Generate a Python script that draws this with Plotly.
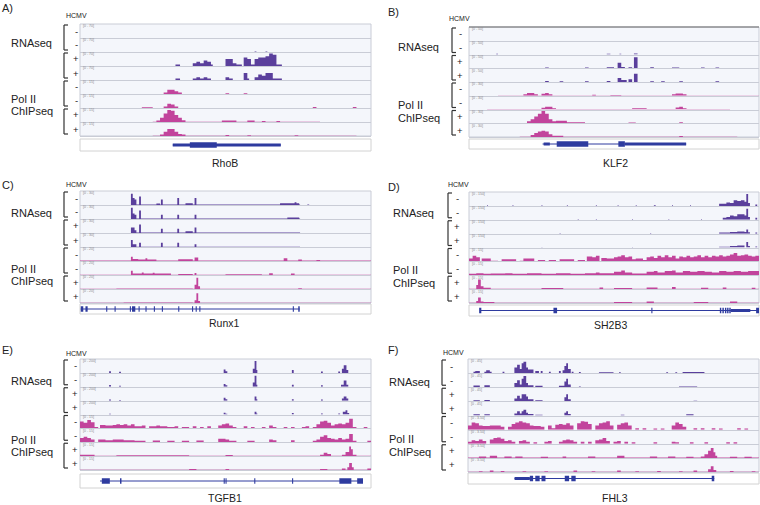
import plotly.graph_objects as go

# ---------------- DATA ----------------
# Each track: list of runs (start, end, height) on a 0-80 genomic-bin axis, height 0-9.
# Later runs overwrite earlier ones.
SIGNS = ['-', '-', '+', '+', '-', '-', '+', '+']

# Panel A: RhoB
A_rna = [
    [],
    [(48, 48.5, 0.4), (51, 51.5, 0.4)],
    [(26.3, 27.5, 1), (31, 32, 2), (32, 33, 3), (33, 34, 2), (34, 35, 4), (35, 36, 3), (36, 36.5, 1),
     (40, 41, 5), (41, 42, 5), (42, 43, 2), (43, 44.5, 1), (45, 46, 6), (46, 47, 5), (47, 48, 1),
     (48, 49, 5), (49, 50, 6), (50, 51, 6), (51, 52, 7), (52, 53, 9), (53, 54, 8), (54, 55.5, 1)],
    [(26.3, 27.5, 1), (31, 32, 1), (32, 33, 2), (33, 34, 1), (34, 35, 2), (35, 36, 1), (40, 41, 2),
     (41, 42, 1), (45, 46, 5), (46, 46.5, 1), (48, 49, 2), (49, 50, 4), (50, 51, 3), (51, 52, 5),
     (52, 53, 5), (53, 55.5, 1)],
]
A_chip = [
    [(23, 24, 1), (24, 25, 3), (25, 26, 3), (26, 27, 2), (27, 28, 1), (40, 41, 0.5), (45, 46, 0.5)],
    [(17, 20, 0.5), (23, 24, 1), (24, 25, 3), (25, 26, 2.5), (26, 27, 1), (64, 65, 0.7), (75, 76, 0.7)],
    [(20, 66, 0.25), (39, 43, 1), (46, 48, 1), (50, 51, 0.7), (54, 55, 0.7), (21, 22, 1), (22, 23, 3),
     (23, 24, 6), (24, 25, 8.5), (25, 26, 8), (26, 27, 5), (27, 28, 3), (28, 29, 1.2)],
    [(20, 76, 0.2), (40, 41, 0.7), (46, 47, 0.6), (59, 60, 0.5), (22, 23, 1), (23, 24, 3), (24, 25, 5),
     (25, 26, 5), (26, 27, 3), (27, 28, 1.5), (28, 29, 1)],
]
A_gene_line = (25.5, 55.2)
A_utr = [(25.5, 55.2)]
A_cds = [(30.2, 37.6)]

# Panel B: KLF2
B_rna = [
    [],
    [(7.5, 8, 0.6), (38, 39, 0.6), (41.5, 42, 0.6), (45.5, 46.5, 0.8)],
    [(21, 22, 0.6), (32, 33, 0.5), (38, 40, 0.7), (41, 42, 4), (42, 43, 1), (44, 45, 0.8), (45.5, 46.5, 8),
     (50, 51, 0.7), (56, 58, 0.5), (64, 65, 0.5), (68, 69, 0.5)],
    [(21, 22, 0.7), (25, 26, 0.5), (32, 33, 0.5), (38, 39, 0.7), (41, 42, 3), (42, 43.5, 1.5), (44, 45, 2),
     (45.5, 46.5, 6), (50, 51, 0.6), (53, 54, 0.5), (58, 59, 0.5), (68, 69, 0.5)],
]
B_chip = [
    [(8, 80, 0.2), (15, 16, 1), (16, 18, 2), (18, 19, 1), (20, 21, 1.5), (21, 22, 2), (22, 23, 1),
     (34, 35, 0.8), (39, 42, 0.6), (56, 57, 1), (57, 59, 1.7), (59, 60, 1)],
    [(5, 72, 0.4), (20, 21, 1.2), (21, 23, 2), (23, 24, 1), (45, 49, 1), (57, 58, 1.5), (58, 59, 2), (59, 60, 1)],
    [(14, 70, 0.25), (16, 17, 1.5), (17, 18, 3), (18, 19, 5), (19, 20, 7), (20, 21, 9), (21, 22, 7),
     (22, 23, 3), (23, 24, 1.5), (24, 27, 1.8), (27, 32, 0.8), (44, 46, 0.6), (58, 59, 0.8)],
    [(14, 74, 0.2), (17, 18, 1.5), (18, 19, 3), (19, 20, 4), (20, 21, 4.5), (21, 22, 4), (22, 23, 2),
     (23, 26, 1), (58, 59, 0.8)],
]
B_gene_line = (20.3, 59.9)
B_utr = [(20.6, 22.3), (43, 59.9)]
B_cds = [(24.2, 32.9), (41.2, 43)]

# Panel C: Runx1
C_rna = [
    [(14.5, 60.5, 0.3), (14, 14.5, 8), (14.5, 15, 5), (15, 15.5, 4), (16.2, 16.7, 6), (21, 22, 1),
     (22.2, 22.7, 4), (26.7, 27.2, 5), (29, 31, 1.3), (31.5, 32, 5), (55, 60.3, 1.2), (59, 59.5, 2),
     (62.5, 63, 0.4)],
    [(14.5, 60.5, 0.3), (14, 14.5, 8), (14.5, 15, 4), (15, 15.5, 3), (16.2, 16.7, 6), (22.2, 22.7, 3),
     (26.7, 27.2, 3), (31.5, 32, 3), (57, 60.3, 1)],
    [(14.5, 60.5, 0.3), (14, 14.5, 4), (14.5, 15, 4), (15, 15.5, 2), (16.2, 16.7, 6), (22.2, 22.7, 3),
     (26.7, 27.2, 3), (29, 31, 1.2), (31.5, 32, 4)],
    [(14.5, 60.5, 0.25), (14, 14.5, 5), (14.5, 15, 2), (15, 15.5, 2), (16.2, 16.7, 3), (22.2, 22.7, 3),
     (26.7, 27.2, 3), (31.5, 32, 2)],
]
C_chip = [
    [(0, 80, 0.3), (14, 14.5, 3), (14.5, 16, 1.5), (16, 21, 1), (18, 18.5, 2), (27, 31, 1.2),
     (31.5, 32.5, 2.5), (56, 57, 2), (60, 61, 1), (65, 66, 0.8)],
    [(0, 80, 0.25), (14, 14.5, 3), (14.5, 25, 1), (17, 17.5, 1.8), (20, 20.5, 1.6), (27, 31, 0.8),
     (31.5, 32, 1.5), (40, 50, 0.6), (52, 53, 1.2), (58, 59, 1)],
    [(0, 80, 0.2), (10, 31, 0.35), (31.5, 32, 3), (32, 32.5, 8), (32.5, 33, 2), (60, 61, 0.6)],
    [(0, 80, 0.2), (12, 31, 0.3), (31.5, 32, 2), (32, 32.5, 7), (32.5, 33, 1.5)],
]
C_gene_line = (0.2, 60.4)
C_utr = []
C_cds = [(0.2, 0.9), (1.5, 2.1), (7.2, 7.5), (9.5, 9.8), (13.7, 14.0), (14.3, 15.2), (16.1, 16.4),
         (18.0, 18.3), (20.3, 20.6), (22.5, 22.8), (27.0, 27.3), (30.8, 31.1), (31.8, 32.1),
         (32.8, 33.1), (58.5, 58.8), (60.0, 60.4)]

# Panel D: SH2B3
D_rna = [
    [(5, 5.3, 0.5), (12, 12.3, 0.5), (20, 20.3, 0.5), (27, 27.3, 0.5), (35, 35.3, 0.5), (41, 41.3, 0.5),
     (46, 46.3, 0.5), (51, 51.5, 0.5), (56, 56.3, 0.5), (61, 61.3, 0.5), (69, 71, 1.5), (71, 72, 2.5),
     (72, 73, 2), (73, 74, 4), (74, 75, 3.5), (75, 76, 4), (76, 76.5, 3), (76.5, 77, 8.5), (77, 77.5, 2),
     (79, 79.5, 1)],
    [(30, 30.3, 0.5), (35, 35.3, 0.5), (45, 45.3, 0.5), (55, 55.3, 0.5), (64, 64.3, 0.5), (70, 71, 1.5),
     (71, 72, 2), (72, 73, 3), (73, 74, 2.5), (74, 76, 4), (76, 76.5, 3), (76.5, 77, 8), (77, 77.5, 2),
     (79, 79.5, 1.5)],
    [(25, 25.3, 0.4), (50, 50.3, 0.4), (69, 72, 0.8), (72, 74, 1.2), (74, 76, 1.5), (76, 76.5, 1.2),
     (76.5, 77, 3), (77, 77.5, 1), (79, 79.5, 0.8)],
    [(20, 20.3, 0.4), (45, 45.3, 0.4), (69, 72, 0.6), (72, 74, 1), (74, 76, 1.5), (76.5, 77, 4),
     (77, 77.5, 1), (79, 79.5, 0.7)],
]
D_chip = [
    [(0, 1, 2), (1, 2, 4), (2, 3, 3), (3.5, 6, 2), (6, 8, 0.5), (9, 13, 1.5), (14, 15, 0.5), (15, 18, 2),
     (19, 21, 1), (22, 24, 1), (25, 29, 1.5), (30, 32, 1), (32.5, 34, 3.5), (34, 35, 3), (35, 36, 4),
     (36.5, 38, 2.5), (38, 40, 2), (40, 41, 3), (41, 42, 3.5), (42, 43, 4.5), (43, 44, 3), (44, 45, 3.5),
     (45, 46, 1.5), (46, 48, 2), (48, 49, 1), (49, 50, 3), (50, 51, 3.5), (51, 52, 2.5), (52, 53, 4),
     (53, 54, 3), (54, 55, 4.5), (55, 56, 3), (56, 57, 4), (57, 58, 2), (58, 59, 3.5), (59, 60, 3),
     (60, 61, 4), (61, 62, 3), (62, 63, 3.5), (63, 64, 4.5), (64, 65, 3), (65, 66, 4), (66, 67, 3),
     (67, 68, 4), (68, 69, 3.5), (69, 70, 4.5), (70, 71, 3.5), (71, 72, 4), (72, 73, 5), (73, 74, 6),
     (74, 75, 4), (75, 76, 4.5), (76, 77, 5), (77, 78, 4), (78, 79, 3.5), (79, 80, 4)],
    [(0, 2, 1), (2, 4, 1.5), (4, 6, 1), (6, 10, 1.2), (10, 12, 1.5), (12, 16, 1), (16, 20, 1.5), (20, 24, 1),
     (24, 28, 1.5), (28, 32, 1), (32, 35, 1.5), (35, 36, 2), (36, 40, 1.5), (40, 42, 2.5), (42, 43, 3.5),
     (43, 45, 2), (45, 49, 1.2), (49, 51, 2.5), (51, 52, 3), (52, 54, 2), (54, 56, 3), (56, 57, 3.5),
     (57, 59, 2), (59, 61, 3), (61, 63, 2.5), (63, 65, 3), (65, 67, 2.5), (67, 69, 2), (69, 71, 3),
     (71, 73, 2.5), (73, 75, 3), (75, 77, 2.5), (77, 80, 3)],
    [(0, 80, 0.3), (2, 2.5, 3), (2.5, 3.3, 7), (3.3, 4, 2), (4, 6, 1), (20, 26, 0.8), (36, 37, 1.2),
     (40, 45, 0.8), (49, 52, 1.2), (56, 57, 1.5), (64, 66, 1), (70, 71, 1.2), (78, 79, 1)],
    [(0, 80, 0.25), (2, 2.5, 1.5), (2.5, 3.3, 4), (3.3, 4, 1), (4, 7, 0.8), (40, 45, 0.7), (49, 51, 1),
     (62, 66, 0.8), (72, 74, 1)],
]
D_gene_line = (3.0, 80.0)
D_utr = [(72.2, 77.6)]
D_cds = [(2.8, 3.4), (23.3, 24.3), (50.3, 50.6), (69.2, 69.6), (69.9, 70.3), (70.6, 71.0), (71.2, 71.6),
         (71.8, 72.2), (79.2, 80.0)]

# Panel E: TGFB1
E_rna = [
    [(8, 8.5, 1.2), (10.8, 11.3, 0.8), (39.5, 40, 2.5), (40, 40.6, 1.2), (47.6, 48, 3), (48, 48.4, 8.5),
     (48.4, 48.8, 2), (58.2, 58.7, 2), (66.2, 66.7, 1), (71, 71.4, 1), (72, 72.5, 3), (72.5, 73.2, 5.5),
     (73.2, 73.7, 2)],
    [(8, 8.5, 1.2), (10.8, 11.3, 0.8), (39.5, 40, 2), (40, 40.6, 1), (47.6, 48, 3), (48, 48.4, 8),
     (48.4, 48.8, 1.5), (58.2, 58.7, 1.5), (66.2, 66.7, 1), (71.8, 72.4, 1.5), (72.4, 73.2, 4.5),
     (73.2, 73.7, 1.5)],
    [(8, 8.5, 0.8), (10.8, 11.3, 0.5), (39.5, 40.1, 2), (40.1, 40.6, 1), (48, 48.4, 3), (48.4, 48.8, 1),
     (58.2, 58.7, 1), (66.2, 66.7, 0.8), (72, 72.5, 1.5), (72.5, 73.2, 3), (73.2, 73.7, 1.5)],
    [(8, 8.5, 0.6), (39.5, 40.1, 1.2), (40.1, 40.6, 0.6), (48, 48.4, 2), (48.4, 48.8, 0.8), (58.2, 58.7, 1),
     (66.2, 66.7, 0.8), (71, 71.5, 0.8), (72.3, 73, 2), (73, 73.5, 3), (73.5, 74, 1)],
]
E_chip = [
    [(0, 80, 0.25), (0, 1, 5), (1, 2, 4), (2, 3, 6), (3, 4, 4.5), (4, 5, 1), (5.5, 7, 2.5), (7, 9, 2),
     (9, 10, 2.5), (10, 11, 3), (11, 12, 2.5), (12, 13, 3), (13, 14, 2), (14, 15, 3), (15, 17, 1.5),
     (17, 18, 2), (19, 21, 1.5), (21, 22, 2), (22, 24, 1.5), (24, 26, 1), (26, 27, 1.5), (28, 30, 1),
     (31, 32, 1.5), (33, 34, 1), (35, 36, 1.5), (38, 39, 2), (39, 40, 3), (40, 41, 3.5), (41, 42, 2),
     (42, 43, 1), (45, 46, 1.5), (47, 48, 1), (50, 51, 1), (52, 53, 2), (53, 54, 1), (56, 57, 1),
     (58, 59, 1), (61, 62, 1), (62, 63, 1.5), (64, 65, 1), (65, 66, 3), (66, 67, 5), (67, 68, 5.5),
     (68, 69, 4), (69, 70, 2), (70, 71, 3), (71, 72, 3.5), (72, 73, 3), (73, 74, 4), (74, 75, 7),
     (75, 76, 1), (78, 79, 1)],
    [(0, 80, 0.25), (0, 1, 3), (1, 2, 4), (2, 3, 3), (3, 4, 2), (5, 7, 2), (7, 9, 1.5), (9, 12, 2),
     (12, 15, 1.5), (15, 18, 1), (20, 22, 1.2), (24, 26, 1), (28, 30, 1), (32, 34, 1.2), (38, 40, 2.5),
     (40, 41, 2), (41, 43, 1), (46, 48, 1), (52, 53, 2), (53, 54, 1.5), (58, 59, 1.5), (64, 65, 1),
     (65, 66, 2), (66, 67, 4), (67, 68, 5), (68, 69, 3), (69, 70, 2.5), (70, 71, 2), (71, 72, 3),
     (72, 73, 2), (73, 74, 2.5), (74, 75, 6), (75, 76, 1), (79, 80, 1)],
    [(0, 80, 0.3), (0, 4, 1), (10, 30, 0.6), (40, 42, 0.8), (66, 67, 1), (67, 68, 2.5), (68, 69, 1.5),
     (72, 73, 1), (73, 74, 3), (74, 74.5, 7), (74.5, 75, 5), (75, 76, 1)],
    [(0, 80, 0.25), (30, 32, 0.8), (40, 41, 0.7), (66, 68, 0.8), (72, 73, 1), (73.5, 74, 2), (74, 74.7, 5),
     (74.7, 75.2, 2), (79, 80, 1)],
]
E_gene_line = (5.5, 77.8)
E_utr = []
E_cds = [(6.0, 8.2), (11.0, 11.4), (39.5, 39.8), (40.0, 40.3), (47.9, 48.2), (58.3, 58.6),
         (71.3, 74.6), (76.2, 77.8)]

# Panel F: FHL3
F_rna = [
    [(1.4, 2, 1), (2, 3.2, 1.5), (4.5, 5, 1), (5, 6, 2), (6, 6.5, 1), (9.4, 9.9, 1), (12.8, 13.4, 4),
     (13.4, 14.2, 6), (14.2, 14.7, 3), (14.7, 15.3, 7), (15.3, 16, 8), (16, 16.5, 4), (16.5, 17.9, 2.5),
     (18.5, 19.5, 1.5), (20, 20.6, 1.5), (22.3, 22.8, 1), (25, 25.5, 1.5), (26, 26.6, 2), (26.6, 27.1, 5),
     (27.1, 27.6, 7), (27.6, 28.2, 3), (28.4, 29, 1), (30.5, 31, 0.8), (36, 40, 0.6), (41.5, 42, 0.6),
     (54.4, 55, 0.6), (57, 57.5, 0.6), (59, 65, 0.8)],
    [(1.4, 3.2, 1.2), (4.5, 6, 1.5), (12.8, 13.4, 3), (13.4, 14.2, 5), (14.2, 14.7, 2), (14.7, 15.3, 6),
     (15.3, 16, 8), (16, 16.5, 3), (16.5, 17.9, 1.5), (18.5, 20.6, 1), (25, 26.5, 1), (26.6, 27.1, 4),
     (27.1, 27.6, 6), (27.6, 28.2, 2), (30.5, 31, 0.6), (58, 63, 0.6)],
    [(1.4, 3.2, 0.8), (4.5, 6, 1), (12.8, 13.4, 2), (13.4, 14.2, 4), (14.2, 14.7, 2), (14.7, 15.3, 5),
     (15.3, 16, 5), (16, 16.5, 3.5), (16.5, 17.9, 1.5), (18.5, 20.6, 0.8), (26.6, 27.1, 3), (27.1, 27.6, 5),
     (27.6, 28.2, 1.5), (62, 63, 0.5)],
    [(1.4, 3.2, 0.8), (4.5, 6, 0.8), (12.8, 13.4, 1.5), (13.4, 14.2, 3), (14.2, 14.7, 1.5), (14.7, 15.3, 3),
     (15.3, 16, 4), (16, 16.5, 2), (16.5, 17.9, 1), (18.5, 20.6, 0.6), (26.6, 27.1, 2), (27.1, 27.6, 3),
     (27.6, 28.2, 1), (42, 43, 0.5), (60, 62, 0.8)],
]
F_chip = [
    [(0, 1, 3), (1, 2, 5), (2, 3, 4.5), (3, 4, 3), (4, 6, 2.5), (6, 9, 3), (9, 10, 2), (11, 12, 2),
     (12, 13, 4), (13, 14, 5), (14, 15, 6), (15, 16, 5), (16, 17, 4.5), (17, 18, 3), (18, 20, 2.5),
     (20, 21, 2), (22, 23, 3), (23, 24, 1), (24, 25, 3.5), (25, 26, 4), (26, 27, 3.5), (27, 28, 4.5),
     (28, 29, 3), (30, 31, 4.5), (31, 32, 6), (32, 33, 5.5), (33, 34, 4), (35, 36, 3), (36, 37, 4.5),
     (37, 38, 5), (38, 39, 6), (39, 40, 3), (41, 42, 3.5), (42, 43, 4.5), (43, 44, 5), (44, 45, 3),
     (46, 47, 1), (48, 49, 1), (51, 52, 0.8), (53, 54, 0.8), (56, 57, 3), (57, 58, 5), (58, 59, 4),
     (59, 60, 2), (62, 63, 1), (64, 65, 1), (67, 68, 1), (69, 70, 0.8), (74, 75, 1), (76, 77, 0.8)],
    [(0, 1, 1.5), (1, 2, 2.5), (2, 3, 2), (3, 4, 3), (4, 5, 2), (6, 7, 3), (7, 8, 4), (8, 9, 4.5),
     (9, 10, 3.5), (10, 11, 2), (11, 12, 2.5), (12, 13, 1.5), (14, 15, 2), (15, 16, 2.5), (16, 17, 1.5),
     (18, 19, 1), (21, 22, 1.5), (22, 23, 2), (25, 26, 1.5), (26, 27, 2.5), (27, 28, 3), (28, 29, 2.5),
     (29, 30, 1.5), (31, 32, 1.5), (33, 34, 1.5), (35, 36, 2.5), (36, 37, 3), (37, 38, 4), (38, 39, 2),
     (40, 41, 1.5), (41, 42, 2), (43, 44, 1.5), (45, 46, 1), (51, 52, 1), (56, 57, 1.5), (57, 58, 1),
     (61, 62, 1), (65, 66, 1), (71, 72, 1), (73, 74, 1)],
    [(0, 80, 0.3), (3, 5, 1), (6, 8, 1.5), (10, 12, 1), (13, 15, 1), (20, 22, 0.8), (26, 27, 1),
     (33, 35, 1), (41, 43, 1.5), (50, 52, 1), (55, 57, 1), (60, 62, 0.8), (64, 65, 1), (65, 66, 2.5),
     (66, 66.7, 5), (66.7, 67.4, 7), (67.4, 68, 4), (68, 68.5, 1.5), (72, 74, 0.8), (76, 78, 0.8)],
    [(0, 80, 0.25), (3, 4, 0.6), (6, 7, 1), (9, 10, 0.8), (15, 16, 0.6), (21, 22, 0.6), (29, 30, 1),
     (34, 35, 0.6), (41, 42, 1), (46, 47, 0.6), (52, 53, 0.7), (58, 59, 0.6), (62, 63, 1), (66, 66.8, 2),
     (66.8, 67.5, 4), (67.5, 68.2, 1.5), (72, 73, 0.7), (78, 79, 0.6)],
]
F_gene_line = (12.8, 67.7)
F_utr = [(12.8, 17.0)]
F_cds = [(17.0, 17.9), (18.5, 19.7), (20.2, 21.3), (26.6, 27.8), (28.4, 29.6), (67.0, 67.7)]

GENES = ['RhoB', 'KLF2', 'Runx1', 'SH2B3', 'TGFB1', 'FHL3']
LETTERS = ['A)', 'B)', 'C)', 'D)', 'E)', 'F)']
RNA_SCALES = ['[0 - 70]', '[0 - 50]', '[0 - 30]', '[0 - 150]', '[0 - 200]', '[0 - 45]']
CHIP_SCALES = ['[0 - 15]', '[0 - 30]', '[0 - 20]', '[0 - 15]', '[0 - 15]', '[0 - 3.50]']

# ---------------- LAYOUT / STYLE ----------------
W, H = 760, 505
RNA_COL = '#5a3f9c'
CHIP_COL = '#c2449c'
GENE_COL = '#2e3b9f'
FONT = 'Liberation Sans, Arial, sans-serif'
NB = 320
STEP = 80 / NB


def fx(x):
    return x / W


def fy(y):
    return 1 - y / H


def raster(runs):
    v = [0.0] * NB
    for a, b, h in runs:
        for i in range(NB):
            c = (i + 0.5) * STEP
            if a <= c < b:
                v[i] = h
    return v


geom = [
    dict(tx0=80, tx1=371, ty0=24, ty1=136, gy0=139, gy1=151, let=(1, 8), hc=(76, 15), lx=10,
         ry=43, py1=99, py2=111, bx=64, sx=76, gn=(225, 163), gnb=False, topline=False),
    dict(tx0=469, tx1=759, ty0=27, ty1=137, gy0=139, gy1=149, let=(387, 12), hc=(459, 18), lx=397,
         ry=47, py1=105, py2=118, bx=452, sx=460, gn=(615, 163), gnb=False, topline=True),
    dict(tx0=80, tx1=371, ty0=191, ty1=303, gy0=304, gy1=314, let=(1, 185), hc=(76, 184), lx=10,
         ry=213, py1=269, py2=281, bx=64, sx=76, gn=(225, 323), gnb=False, topline=False),
    dict(tx0=469, tx1=759, ty0=192, ty1=303, gy0=305, gy1=316, let=(387, 187), hc=(458, 184), lx=392,
         ry=213, py1=270, py2=283, bx=448, sx=457, gn=(610, 325), gnb=False, topline=False),
    dict(tx0=80, tx1=371, ty0=359, ty1=470, gy0=474, gy1=488, let=(1, 350), hc=(76, 353), lx=10,
         ry=381, py1=440, py2=452, bx=64, sx=75, gn=(225, 505), gnb=True, topline=False),
    dict(tx0=468, tx1=759, ty0=359, ty1=472, gy0=473, gy1=484, let=(387, 350), hc=(453, 352), lx=388,
         ry=382, py1=439, py2=452, bx=442, sx=452, gn=(615, 505), gnb=True, topline=False),
]

data_rna = [A_rna, B_rna, C_rna, D_rna, E_rna, F_rna]
data_chip = [A_chip, B_chip, C_chip, D_chip, E_chip, F_chip]
gene_lines = [A_gene_line, B_gene_line, C_gene_line, D_gene_line, E_gene_line, F_gene_line]
gene_utr = [A_utr, B_utr, C_utr, D_utr, E_utr, F_utr]
gene_cds = [A_cds, B_cds, C_cds, D_cds, E_cds, F_cds]

fig = go.Figure()
layout = {}
shapes = []
annotations = []
ax = 0
xs = [i * STEP for i in range(NB + 1)]


def txt(x, y, s, size, color='#222', xanchor='left', yanchor='middle'):
    annotations.append(dict(x=fx(x), y=fy(y), xref='paper', yref='paper', text=s, showarrow=False,
                            xanchor=xanchor, yanchor=yanchor, borderpad=0,
                            font=dict(family=FONT, size=size, color=color)))


def line(x0, y0, x1, y1, color='#333', width=1.2):
    shapes.append(dict(type='line', xref='paper', yref='paper', x0=fx(x0), y0=fy(y0), x1=fx(x1), y1=fy(y1),
                       line=dict(color=color, width=width)))


for p, g in enumerate(geom):
    tracks = data_rna[p] + data_chip[p]
    th = (g['ty1'] - g['ty0']) / 8
    # track area background
    shapes.append(dict(type='rect', xref='paper', yref='paper', layer='below',
                       x0=fx(g['tx0']), x1=fx(g['tx1']), y0=fy(g['ty1']), y1=fy(g['ty0']),
                       fillcolor='#f4f6fb', line=dict(color='#c9ccd6', width=1)))
    # gene row box
    shapes.append(dict(type='rect', xref='paper', yref='paper', layer='below',
                       x0=fx(g['tx0']), x1=fx(g['tx1']), y0=fy(g['gy1']), y1=fy(g['gy0']),
                       fillcolor='white', line=dict(color='#d2d2d2', width=1)))
    if g['topline']:
        line(g['tx0'], g['ty0'], g['tx1'], g['ty0'], color='#666', width=1)
    for i, runs in enumerate(tracks):
        ax += 1
        top = g['ty0'] + i * th
        bot = top + th
        v = raster(runs)
        col = RNA_COL if i < 4 else CHIP_COL
        fig.add_trace(go.Scatter(x=xs, y=v + [v[-1]], mode='lines', line=dict(width=0, shape='hv'),
                                 fill='tozeroy', fillcolor=col, hoverinfo='skip', showlegend=False,
                                 xaxis=f'x{ax}', yaxis=f'y{ax}'))
        layout[f'xaxis{ax}'] = dict(domain=[fx(g['tx0']), fx(g['tx1'])], range=[0, 80], anchor=f'y{ax}',
                                    showgrid=False, zeroline=False, showticklabels=False, ticks='',
                                    showline=True, linecolor='#c9ccd6', linewidth=1, fixedrange=True)
        layout[f'yaxis{ax}'] = dict(domain=[fy(bot), fy(top)], range=[0, 10], anchor=f'x{ax}',
                                    showgrid=False, zeroline=False, showticklabels=False, ticks='',
                                    showline=False, fixedrange=True)
        scale = RNA_SCALES[p] if i < 4 else CHIP_SCALES[p]
        txt(g['tx0'] + 2, top + 2.4, scale, 3.5, color='#888')
        txt(g['sx'], (top + bot) / 2, SIGNS[i], 9.5, xanchor='center')
    # brackets
    for k in range(4):
        b0 = g['ty0'] + 2 * k * th + 1
        b1 = g['ty0'] + (2 * k + 2) * th - 2
        line(g['bx'], b0, g['bx'], b1)
        line(g['bx'], b0, g['bx'] + 4, b0)
        line(g['bx'], b1, g['bx'] + 4, b1)
    # gene model axis
    ax += 1
    gl = gene_lines[p]
    fig.add_trace(go.Scatter(x=[gl[0], gl[1]], y=[0, 0], mode='lines', line=dict(color=GENE_COL, width=1),
                             hoverinfo='skip', showlegend=False, xaxis=f'x{ax}', yaxis=f'y{ax}'))
    ux, uy = [], []
    for a, b in gene_utr[p]:
        ux += [a, b, None]
        uy += [0, 0, None]
    if ux:
        fig.add_trace(go.Scatter(x=ux, y=uy, mode='lines', line=dict(color=GENE_COL, width=3),
                                 hoverinfo='skip', showlegend=False, xaxis=f'x{ax}', yaxis=f'y{ax}'))
    cx, cy = [], []
    for a, b in gene_cds[p]:
        cx += [a, b, None]
        cy += [0, 0, None]
    fig.add_trace(go.Scatter(x=cx, y=cy, mode='lines', line=dict(color=GENE_COL, width=5.5),
                             hoverinfo='skip', showlegend=False, xaxis=f'x{ax}', yaxis=f'y{ax}'))
    layout[f'xaxis{ax}'] = dict(domain=[fx(g['tx0']), fx(g['tx1'])], range=[0, 80], anchor=f'y{ax}',
                                visible=False, fixedrange=True)
    layout[f'yaxis{ax}'] = dict(domain=[fy(g['gy1']), fy(g['gy0'])], range=[-1, 1], anchor=f'x{ax}',
                                visible=False, fixedrange=True)
    # texts
    txt(g['let'][0], g['let'][1], LETTERS[p], 11)
    txt(g['hc'][0], g['hc'][1], 'HCMV', 7, xanchor='center')
    txt(g['lx'], g['ry'], 'RNAseq', 11)
    txt(g['lx'], g['py1'], 'Pol II', 11)
    txt(g['lx'], g['py2'], 'ChIPseq', 11)
    txt(g['gn'][0], g['gn'][1], GENES[p], 10.5, xanchor='center',
        yanchor='bottom' if g['gnb'] else 'middle')

fig.update_layout(width=W, height=H, margin=dict(l=0, r=0, t=0, b=0), paper_bgcolor='white',
                  plot_bgcolor='rgba(0,0,0,0)', shapes=shapes, annotations=annotations, showlegend=False,
                  **layout)
fig.write_html('out.html', config={'displayModeBar': False},
               post_script="document.body.style.margin='0';document.body.style.overflow='hidden';")
